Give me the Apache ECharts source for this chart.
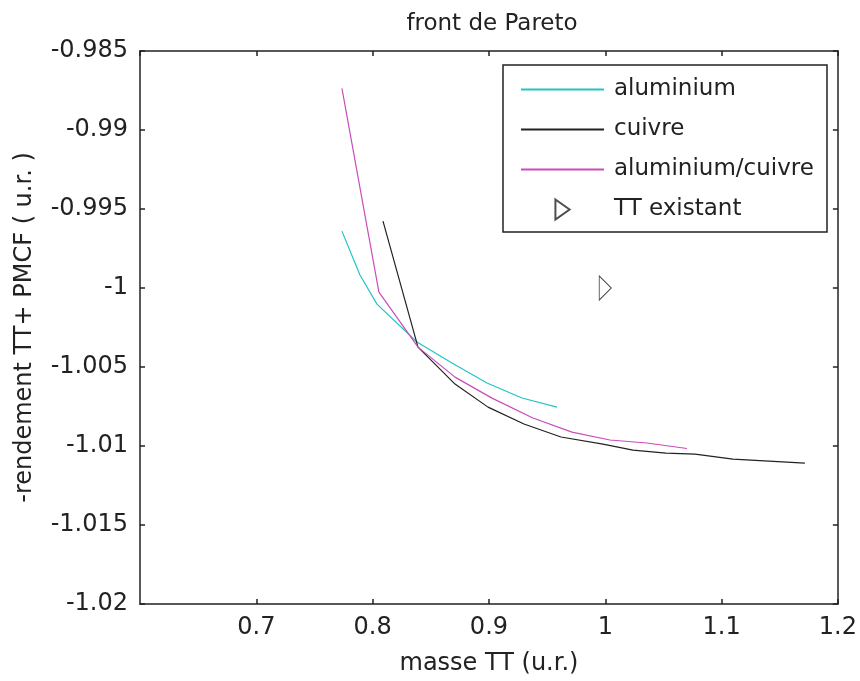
<!DOCTYPE html>
<html>
<head>
<meta charset="utf-8">
<script src="https://cdn.jsdelivr.net/npm/echarts@6/dist/echarts.min.js"></script>
<style>
html, body { margin: 0; padding: 0; background: #fff; }
#main { width: 860px; height: 681px; }
</style>
</head>
<body>
<div id="main"></div>
<script>
// pareto fronts: [masse, -rendement]
var aluminium = [
    [0.7736, -0.99640], [0.7891, -0.99918], [0.8037, -1.00102], [0.8381, -1.00342],
    [0.8682, -1.00475], [0.8983, -1.00601], [0.9284, -1.00696], [0.9585, -1.00754]
];
var cuivre = [
    [0.8089, -0.99577], [0.8390, -1.00374], [0.8708, -1.00608], [0.8992, -1.00754],
    [0.9301, -1.00861], [0.9619, -1.00943], [0.9980, -1.00988], [1.0238, -1.01026],
    [1.0522, -1.01045], [1.0771, -1.01051], [1.1098, -1.01083], [1.1716, -1.01108]
];
var aluCuivre = [
    [0.7736, -0.98736], [0.8054, -1.00026], [0.8390, -1.00374], [0.8708, -1.00564],
    [0.9026, -1.00697], [0.9378, -1.00823], [0.9714, -1.00912], [1.0040, -1.00962],
    [1.0358, -1.00981], [1.0702, -1.01016]
];
var ttExistant = [[1.0, -1.0]];

var seriesNames = ['aluminium', 'cuivre', 'aluminium/cuivre', 'TT existant'];
var xMin = 0.6, xMax = 1.2, xStep = 0.1;
var yMin = -1.02, yMax = -0.985, yStep = 0.005;

var font = "'DejaVu Sans', sans-serif";
var triangle = 'path://M0,0 L17,12 L0,24 Z';
var noSymbol = { color: 'rgba(0,0,0,0)', borderColor: 'rgba(0,0,0,0)', borderWidth: 0 };

var chart = echarts.init(document.getElementById('main'));

function axisCommon(extra) {
    var a = {
        axisLine: { show: true, onZero: false, lineStyle: { color: '#222', width: 1.5 } },
        axisTick: { show: true, inside: true, length: 5, lineStyle: { color: '#222', width: 1.5 } },
        splitLine: { show: false }
    };
    for (var k in extra) a[k] = extra[k];
    return a;
}

var option = {
    backgroundColor: '#fff',
    animation: false,
    title: {
        text: 'front de Pareto',
        left: 487,
        top: 8,
        textAlign: 'center',
        textStyle: { fontFamily: font, fontSize: 23, fontWeight: 'normal', color: '#222' }
    },
    grid: { left: 140, top: 51, right: 22, bottom: 77 },
    legend: {
        data: [
            { name: seriesNames[0], itemStyle: noSymbol },
            { name: seriesNames[1], itemStyle: noSymbol },
            { name: seriesNames[2], itemStyle: noSymbol },
            { name: seriesNames[3], icon: triangle }
        ],
        orient: 'vertical',
        left: 520,
        top: 78,
        padding: 0,
        itemWidth: 83,
        itemHeight: 20,
        itemGap: 17,
        selectedMode: false,
        textStyle: { fontFamily: font, fontSize: 23, color: '#222', padding: [0, 0, 0, 5] }
    },
    xAxis: [
        axisCommon({
            type: 'value', min: xMin, max: xMax, interval: xStep, position: 'bottom',
            name: 'masse TT (u.r.)', nameLocation: 'middle', nameGap: 48,
            nameTextStyle: { fontFamily: font, fontSize: 24, color: '#222' },
            axisLabel: {
                showMinLabel: false, margin: 12,
                fontFamily: font, fontSize: 24, color: '#222',
                formatter: function (v) { return String(parseFloat(v.toFixed(3))); }
            }
        }),
        axisCommon({
            type: 'value', min: xMin, max: xMax, interval: xStep, position: 'top',
            axisLabel: { show: false }
        })
    ],
    yAxis: [
        axisCommon({
            type: 'value', min: yMin, max: yMax, interval: yStep, position: 'left',
            name: '-rendement TT+ PMCF ( u.r. )', nameLocation: 'middle', nameGap: 103,
            nameTextStyle: { fontFamily: font, fontSize: 24, color: '#222' },
            axisLabel: {
                margin: 12, fontFamily: font, fontSize: 24, color: '#222',
                formatter: function (v) { return String(parseFloat(v.toFixed(4))); }
            }
        }),
        axisCommon({
            type: 'value', min: yMin, max: yMax, interval: yStep, position: 'right',
            axisLabel: { show: false }
        })
    ],
    graphic: [{
        type: 'rect',
        shape: { x: 503, y: 65, width: 324, height: 167 },
        style: { fill: 'none', stroke: '#222', lineWidth: 1.5 },
        z: 0
    }],
    series: [
        {
            name: seriesNames[0], type: 'line', data: aluminium,
            symbol: 'none', color: '#22c4c6',
            lineStyle: { width: 1.2, color: '#22c4c6' }
        },
        {
            name: seriesNames[1], type: 'line', data: cuivre,
            symbol: 'none', color: '#222',
            lineStyle: { width: 1.2, color: '#222' }
        },
        {
            name: seriesNames[2], type: 'line', data: aluCuivre,
            symbol: 'none', color: '#c94cba',
            lineStyle: { width: 1.2, color: '#c94cba' }
        },
        {
            name: seriesNames[3], type: 'scatter', data: ttExistant,
            symbol: triangle, symbolSize: [17, 24], symbolKeepAspect: true,
            itemStyle: { color: '#fff', borderColor: '#222', borderWidth: 1 }
        }
    ]
};

chart.setOption(option);
</script>
</body>
</html>
